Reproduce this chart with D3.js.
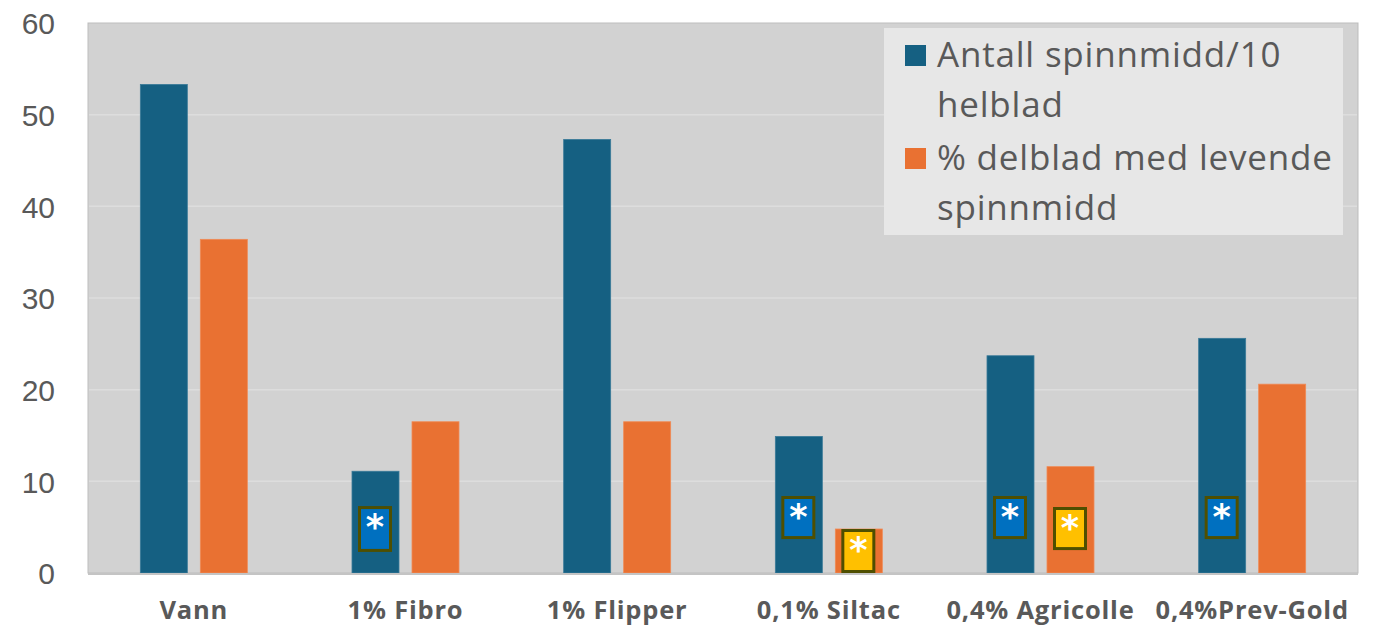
<!DOCTYPE html>
<html>
<head>
<meta charset="utf-8">
<script src="https://cdn.jsdelivr.net/npm/d3@7"></script>
<style>
  html, body { margin: 0; padding: 0; background: #ffffff; }
  svg { display: block; }
</style>
</head>
<body>
<svg id="chart" width="1380" height="627"></svg>
<script>
// ---- data ----
const categories = ["Vann", "1% Fibro", "1% Flipper", "0,1% Siltac", "0,4% Agricolle", "0,4%Prev-Gold"];
const seriesNames = ["Antall spinnmidd/10 helblad", "% delblad med levende spinnmidd"];
const legendLines = [["Antall spinnmidd/10", "helblad"], ["% delblad med levende", "spinnmidd"]];
const antallSpinnmidd = [53.3, 11.1, 47.3, 14.9, 23.7, 25.6];
const prosentDelblad = [36.4, 16.5, 16.5, 4.8, 11.6, 20.6];
const yTicks = [0, 10, 20, 30, 40, 50, 60];
// significance markers: category, series index, top value, bottom value
const markCategory = ["1% Fibro", "0,1% Siltac", "0,1% Siltac", "0,4% Agricolle", "0,4% Agricolle", "0,4%Prev-Gold"];
const markSeries = [0, 0, 1, 0, 1, 0];
const markTop = [7.3, 8.4, 4.8, 8.4, 7.2, 8.4];
const markBottom = [2.3, 3.7, 0.0, 3.7, 2.5, 3.7];

// ---- layout ----
const svg = d3.select("#chart");
const pLeft = 88, pRight = 1358, pTop = 23, pBottom = 573;
const colors = ["#156082", "#e97132"];
const markFill = ["#0070c0", "#ffc000"];

const x0 = d3.scaleBand().domain(categories).range([pLeft, pRight])
  .paddingInner(0.4945).paddingOuter(0.4945 / 2);
const x1 = d3.scaleBand().domain([0, 1]).range([0, x0.bandwidth()])
  .paddingInner(0.2167).paddingOuter(0);
const y = d3.scaleLinear().domain([0, 60]).range([pBottom, pTop]);

// plot background
svg.append("rect").attr("x", pLeft).attr("y", pTop)
  .attr("width", pRight - pLeft).attr("height", pBottom - pTop)
  .attr("fill", "#d2d2d2").attr("stroke", "#bdbdbd").attr("stroke-width", 1);

// gridlines
svg.append("g").selectAll("line").data(yTicks.filter(d => d > 0 && d < 60)).join("line")
  .attr("x1", pLeft + 1).attr("x2", pRight - 1)
  .attr("y1", d => y(d)).attr("y2", d => y(d))
  .attr("stroke", "#dddddd").attr("stroke-width", 1.5);

// y axis
const yAxis = d3.axisLeft(y).tickValues(yTicks).tickSize(0).tickPadding(0);
const ya = svg.append("g").attr("transform", `translate(${pLeft - 33},0)`).call(yAxis);
ya.select(".domain").remove();
ya.selectAll("text")
  .attr("font-family", "'Liberation Sans', Arial, sans-serif")
  .attr("font-size", 30).attr("fill", "#595959").attr("dy", "0.36em");

// bars
const groups = svg.append("g").selectAll("g").data(categories).join("g")
  .attr("transform", d => `translate(${x0(d)},0)`);
groups.selectAll("rect").data((d, i) => [antallSpinnmidd[i], prosentDelblad[i]]).join("rect")
  .attr("x", (d, j) => x1(j)).attr("width", x1.bandwidth())
  .attr("y", d => y(d)).attr("height", d => y(0) - y(d))
  .attr("fill", (d, j) => colors[j])
  .attr("stroke", (d, j) => j === 0 ? "#3a7a98" : "#f08a55").attr("stroke-width", 0.8);

// x axis baseline
svg.append("line").attr("x1", pLeft).attr("x2", pRight)
  .attr("y1", pBottom + 1).attr("y2", pBottom + 1)
  .attr("stroke", "#c4c4c4").attr("stroke-width", 2);

// x axis labels
const xAxis = d3.axisBottom(x0).tickSize(0).tickPadding(0);
const xa = svg.append("g").attr("transform", `translate(0,619)`).call(xAxis);
xa.select(".domain").remove();
xa.selectAll("text")
  .attr("font-family", "'Open Sans', sans-serif").attr("font-weight", "bold")
  .attr("font-size", 25.5).attr("letter-spacing", 0.8)
  .attr("fill", "#595959").attr("dy", 0).attr("y", 0);

// significance markers
const marks = markCategory.map((c, i) => ({ c, s: markSeries[i], t: markTop[i], b: markBottom[i] }));
const mg = svg.append("g").selectAll("g").data(marks).join("g");
mg.append("rect")
  .attr("x", d => x0(d.c) + x1(d.s) + 7.5)
  .attr("y", d => y(d.t) + 1.5)
  .attr("width", 31)
  .attr("height", d => y(d.b) - y(d.t) - 3)
  .attr("fill", d => markFill[d.s])
  .attr("stroke", "#4f4f00").attr("stroke-width", 3);
mg.append("text")
  .attr("x", d => x0(d.c) + x1(d.s) + 23)
  .attr("y", d => y(d.t) + 33)
  .attr("text-anchor", "middle")
  .attr("font-family", "'DejaVu Sans', sans-serif").attr("font-weight", "bold")
  .attr("font-size", 35).attr("fill", "#ffffff").text("*");

// legend
const lg = svg.append("g");
lg.append("rect").attr("x", 884).attr("y", 28).attr("width", 459).attr("height", 207)
  .attr("fill", "#e7e7e7");
const itemY = [45, 148];
seriesNames.forEach((name, i) => {
  lg.append("rect").attr("x", 905).attr("y", itemY[i]).attr("width", 21).attr("height", 21)
    .attr("fill", colors[i]);
  legendLines[i].forEach((line, k) => {
    lg.append("text").attr("x", 937).attr("y", itemY[i] + 22 + k * 50)
      .attr("font-family", "'Open Sans', sans-serif").attr("font-size", 35)
      .attr("letter-spacing", 0.8)
      .attr("fill", "#595959").text(line);
  });
});
</script>
</body>
</html>
